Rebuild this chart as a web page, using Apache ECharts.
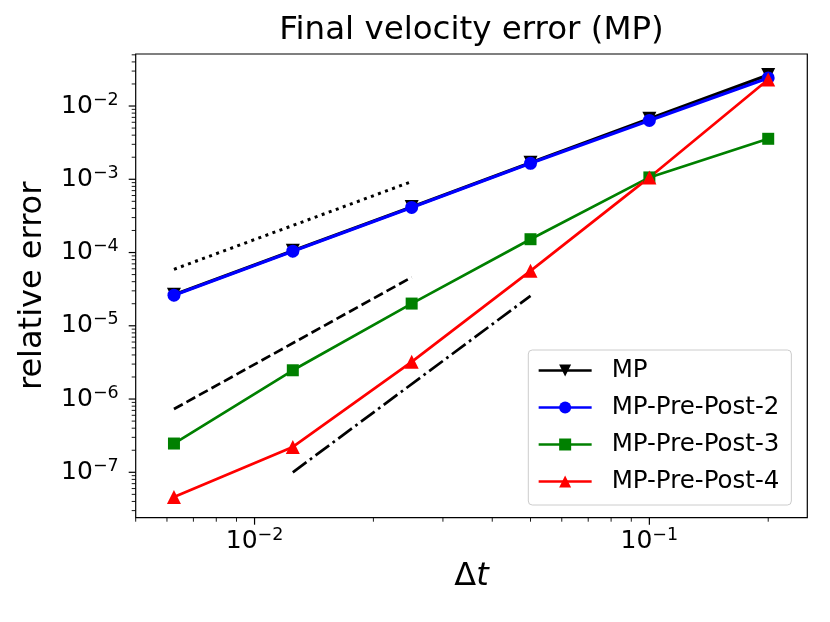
<!DOCTYPE html>
<html><head><meta charset="utf-8">
<script src="https://cdn.jsdelivr.net/npm/echarts@6/dist/echarts.min.js"></script>
<style>html,body{margin:0;padding:0;background:#fff}#c{width:830px;height:622px}</style>
</head><body><div id="c"></div>
<script>
// ---- data ----
const dt = [0.00625, 0.0125, 0.025, 0.05, 0.1, 0.2];
const errMP  = [2.65e-5, 1.06e-4, 4.18e-4, 1.68e-3, 6.7e-3, 2.65e-2];
const errPP2 = [2.62e-5, 1.045e-4, 4.13e-4, 1.65e-3, 6.35e-3, 2.42e-2];
const errPP3 = [2.47e-7, 2.47e-6, 2.01e-5, 1.52e-4, 1.06e-3, 3.57e-3];
const errPP4 = [4.6e-8, 2.22e-7, 3.22e-6, 5.62e-5, 1.06e-3, 2.3e-2];
const seriesNames = ['MP', 'MP-Pre-Post-2', 'MP-Pre-Post-3', 'MP-Pre-Post-4'];
// reference slope lines (order 2, 3, 4)
const refOrder2X = [0.00625, 0.025], refOrder2Y = [5.9e-5, 9.3e-4];
const refOrder3X = [0.00625, 0.025], refOrder3Y = [7.3e-7, 4.6e-5];
const refOrder4X = [0.0125, 0.05],   refOrder4Y = [1.0e-7, 2.56e-5];
// axis extents and ticks
const xMin = 0.005, xMax = 0.2512, yMin = 2.4e-8, yMax = 0.0513;
const xMajorTicks = [0.01, 0.1];
const xMinorTicks = [0.005, 0.006, 0.007, 0.008, 0.009,
  0.02, 0.03, 0.04, 0.05, 0.06, 0.07, 0.08, 0.09, 0.2];
const yMajorTicks = [1e-7, 1e-6, 1e-5, 1e-4, 1e-3, 1e-2];
const yMinorTicks = [3e-8, 4e-8, 5e-8, 6e-8, 7e-8, 8e-8, 9e-8,
  2e-7, 3e-7, 4e-7, 5e-7, 6e-7, 7e-7, 8e-7, 9e-7,
  2e-6, 3e-6, 4e-6, 5e-6, 6e-6, 7e-6, 8e-6, 9e-6,
  2e-5, 3e-5, 4e-5, 5e-5, 6e-5, 7e-5, 8e-5, 9e-5,
  2e-4, 3e-4, 4e-4, 5e-4, 6e-4, 7e-4, 8e-4, 9e-4,
  2e-3, 3e-3, 4e-3, 5e-3, 6e-3, 7e-3, 8e-3, 9e-3,
  2e-2, 3e-2, 4e-2, 5e-2];

const FONT = 'DejaVu Sans';
const pair = (xs, ys) => xs.map((x, i) => [x, ys[i]]);

function expLabel(v) {
  const e = Math.log10(v);
  const r = Math.round(e);
  if (Math.abs(e - r) > 1e-6) return '';
  return '{b|10}{s|' + (r < 0 ? '\u2212' : '') + Math.abs(r) + '}';
}
const labelRich = {
  b: { fontFamily: FONT, fontSize: 25, lineHeight: 30, color: '#000' },
  s: { fontFamily: FONT, fontSize: 17.5, lineHeight: 19, verticalAlign: 'top', color: '#000' }
};

function tickSeries(values, len, lw, horizontal) {
  return {
    type: 'custom', silent: true, clip: false, z: 5,
    xAxisIndex: 0, yAxisIndex: 0,
    data: values.map(v => horizontal ? [v, yMin] : [xMin, v]),
    renderItem: function (params, api) {
      const p = api.coord([api.value(0), api.value(1)]);
      const shape = horizontal
        ? { x1: p[0], y1: p[1], x2: p[0], y2: p[1] + len }
        : { x1: p[0] - len, y1: p[1], x2: p[0], y2: p[1] };
      return { type: 'line', shape: shape, style: { stroke: '#000', lineWidth: lw } };
    }
  };
}

function dataSeries(name, ys, color, symbol, size, lw, rotate) {
  return {
    name: name, type: 'line', data: pair(dt, ys),
    symbol: symbol, symbolSize: size, symbolRotate: rotate || 0, showSymbol: true,
    lineStyle: { color: color, width: lw },
    itemStyle: { color: color, borderWidth: 0 },
    emphasis: { disabled: true }, z: 3
  };
}
function refSeries(xs, ys, dash, lw) {
  return {
    type: 'line', data: pair(xs, ys), symbol: 'none', silent: true,
    lineStyle: { color: '#000', width: lw, type: dash, cap: 'butt' },
    emphasis: { disabled: true }, z: 2
  };
}

const chart = echarts.init(document.getElementById('c'), null, { renderer: 'canvas' });
chart.setOption({
  animation: false,
  backgroundColor: '#fff',
  title: {
    text: 'Final velocity error (MP)',
    left: 471.5, top: 14, padding: 0, textAlign: 'center',
    textStyle: { fontFamily: FONT, fontSize: 32.5, fontWeight: 'normal', color: '#000' }
  },
  grid: {
    left: 135.7, right: 22.7, top: 54, bottom: 104.3,
    show: true, borderColor: '#000', borderWidth: 1.2, backgroundColor: 'transparent'
  },
  xAxis: {
    type: 'log', min: xMin, max: xMax,
    name: '{d|\u0394}{t|t}', nameLocation: 'middle', nameGap: 43,
    nameTextStyle: { rich: {
      d: { fontFamily: FONT, fontSize: 32, lineHeight: 32, color: '#000' },
      t: { fontFamily: FONT, fontSize: 32, lineHeight: 32, fontStyle: 'italic', color: '#000' }
    } },
    axisLine: { show: false }, axisTick: { show: false }, splitLine: { show: false },
    minorTick: { show: false },
    axisLabel: { formatter: expLabel, rich: labelRich, margin: 9, showMinLabel: true, showMaxLabel: true }
  },
  yAxis: {
    type: 'log', min: yMin, max: yMax,
    name: 'relative error', nameLocation: 'middle', nameGap: 87, nameRotate: 90,
    nameTextStyle: { fontFamily: FONT, fontSize: 32, lineHeight: 32, color: '#000' },
    axisLine: { show: false }, axisTick: { show: false }, splitLine: { show: false },
    minorTick: { show: false },
    axisLabel: { formatter: expLabel, rich: labelRich, margin: 17 }
  },
  legend: {
    orient: 'vertical', left: 528.3, top: 350,
    data: seriesNames,
    padding: [8, 12, 11, 9], itemGap: 12, itemWidth: 53, itemHeight: 15,
    lineStyle: { width: 2.7 },
    backgroundColor: 'rgba(255,255,255,0.8)', borderColor: '#cccccc', borderWidth: 1, borderRadius: 4,
    textStyle: { fontFamily: FONT, fontSize: 24.5, lineHeight: 25, color: '#000', padding: [0, 0, 0, 15] }
  },
  series: [
    dataSeries(seriesNames[0], errMP, '#000000', 'triangle', 14, 3.2, 180),
    dataSeries(seriesNames[1], errPP2, '#0000ff', 'circle', 13, 3.2),
    dataSeries(seriesNames[2], errPP3, '#008000', 'rect', 12, 2.7),
    dataSeries(seriesNames[3], errPP4, '#ff0000', 'triangle', 14, 2.7),
    refSeries(refOrder2X, refOrder2Y, [3, 4.5], 3),
    refSeries(refOrder3X, refOrder3Y, [10, 4.3], 2.7),
    refSeries(refOrder4X, refOrder4Y, [17, 4.3, 2.7, 4.3], 2.7),
    tickSeries(xMajorTicks, 7, 1.2, true),
    tickSeries(xMinorTicks, 4, 0.9, true),
    tickSeries(yMajorTicks, 7, 1.2, false),
    tickSeries(yMinorTicks, 4, 0.9, false)
  ]
});
</script></body></html>
